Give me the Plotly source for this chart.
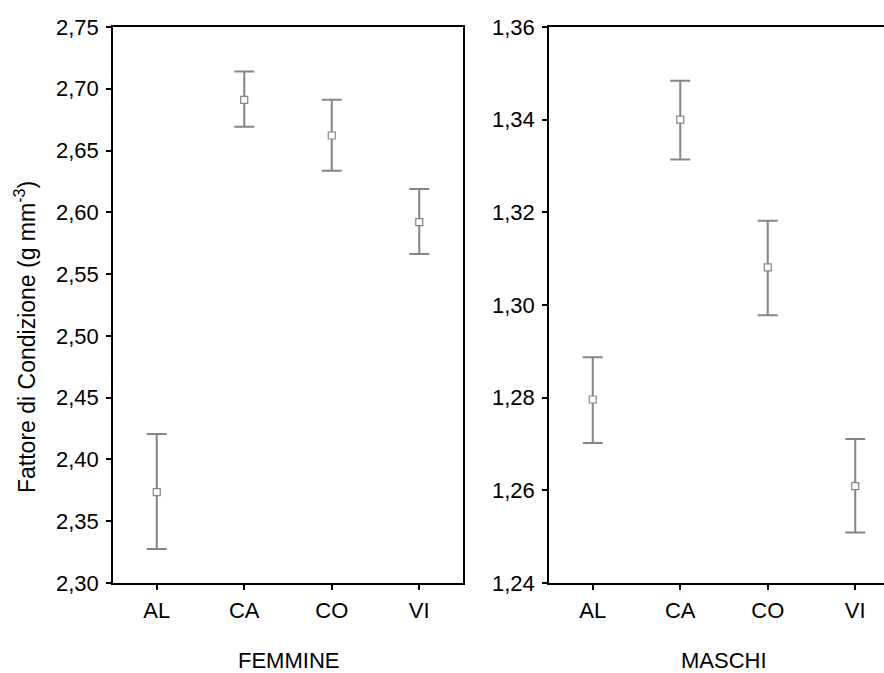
import plotly.graph_objects as go

# Sites sampled
sites = ["AL", "CA", "CO", "VI"]

# Condition factor, females: mean and interval bounds
mean_f = [2.3735, 2.6910, 2.6622, 2.5921]
upper_f = [2.4205, 2.7140, 2.6912, 2.6188]
lower_f = [2.3275, 2.6692, 2.6336, 2.5662]

# Condition factor, males: mean and interval bounds
mean_m = [1.2796, 1.3400, 1.3081, 1.2609]
upper_m = [1.2887, 1.3484, 1.3182, 1.2711]
lower_m = [1.2702, 1.3314, 1.2978, 1.2509]

# Axis ticks
yticks_f = [2.30, 2.35, 2.40, 2.45, 2.50, 2.55, 2.60, 2.65, 2.70, 2.75]
yticks_m = [1.24, 1.26, 1.28, 1.30, 1.32, 1.34, 1.36]

FONT = "Arial, Liberation Sans, sans-serif"
GREY = "#858585"

fig = go.Figure()


def add_panel(means, hi, lo, xa, ya):
    idx = list(range(len(sites)))
    fig.add_trace(go.Scatter(
        x=idx, y=means, xaxis=xa, yaxis=ya, mode="markers",
        marker=dict(symbol="square", size=7, color="white",
                    line=dict(color=GREY, width=1.2)),
        error_y=dict(type="data", symmetric=False,
                     array=[h - m for h, m in zip(hi, means)],
                     arrayminus=[m - l for m, l in zip(means, lo)],
                     color=GREY, thickness=2, width=10),
        showlegend=False,
    ))


add_panel(mean_f, upper_f, lower_f, "x", "y")
add_panel(mean_m, upper_m, lower_m, "x2", "y2")

axis_common = dict(showline=True, linecolor="black", linewidth=1.5,
                   ticks="outside", ticklen=5, tickwidth=1.5, tickcolor="black",
                   showgrid=False, zeroline=False,
                   tickfont=dict(family=FONT, size=22, color="black"))

plot_w = 884 - 113
left_end = 350 / plot_w
right_start = (549 - 113) / plot_w
right_span = (884 - 549) / 87.5  # categories spaced like the left panel

fig.update_layout(
    width=884, height=673,
    margin=dict(l=113, r=0, t=27, b=90),
    paper_bgcolor="white", plot_bgcolor="white",
    separators=",.",
    font=dict(family=FONT, size=22, color="black"),
    xaxis=dict(domain=[0, left_end], range=[-0.5, 3.5], mirror=True,
               tickmode="array", tickvals=list(range(4)), ticktext=sites,
               ticklabelstandoff=2, **axis_common),
    yaxis=dict(range=[2.30, 2.75], mirror=True, tickmode="array",
               tickvals=yticks_f, tickformat=".2f", ticklabelstandoff=3,
               **axis_common),
    xaxis2=dict(domain=[right_start, 1], range=[-0.5, -0.5 + right_span],
                mirror=True, anchor="y2", ticklabelstandoff=2,
                tickmode="array", tickvals=list(range(4)), ticktext=sites,
                **axis_common),
    yaxis2=dict(range=[1.24, 1.36], anchor="x2", mirror=False,
                tickmode="array", tickvals=yticks_m, tickformat=".2f",
                ticklabelstandoff=3, **axis_common),
    annotations=[
        dict(text="FEMMINE", x=1.5, xref="x", y=-0.14, yref="paper",
             showarrow=False, xanchor="center", yanchor="middle",
             font=dict(family=FONT, size=22)),
        dict(text="MASCHI", x=1.5, xref="x2", y=-0.14, yref="paper",
             showarrow=False, xanchor="center", yanchor="middle",
             font=dict(family=FONT, size=22)),
        dict(text="Fattore di Condizione (g mm<sup>-3</sup>)", textangle=-90,
             x=-(113 - 25) / plot_w, xref="paper", y=1 - (337 - 27) / 556,
             yref="paper", showarrow=False, xanchor="center",
             yanchor="middle", font=dict(family=FONT, size=23)),
    ],
)

fig.write_html("out.html")
